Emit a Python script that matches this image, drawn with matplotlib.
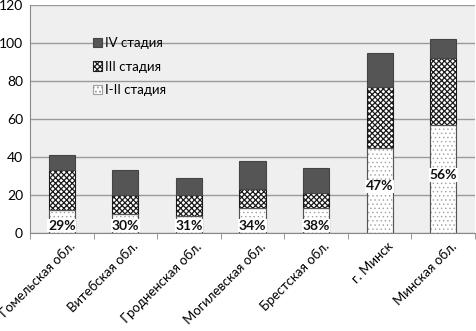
import matplotlib
matplotlib.use("Agg")
import matplotlib.pyplot as plt
import matplotlib.transforms as mtrans
import numpy as np

categories = ["Гомельская обл.", "Витебская обл.", "Гродненская обл.", "Могилевская обл.",
              "Брестская обл.", "г. Минск", "Минская обл."]
stage_1_2 = [12, 10, 9, 13, 13, 45, 57]
stage_3 = [21, 10, 11, 10, 8, 32, 35]
stage_4 = [8, 13, 9, 15, 13, 18, 10]
pct_labels = ["29%", "30%", "31%", "34%", "38%", "47%", "56%"]
yticks = [0, 20, 40, 60, 80, 100, 120]

plt.rcParams['font.family'] = ['Lato', 'DejaVu Sans']

fig = plt.figure(figsize=(4.77, 3.31), dpi=100)
ax = fig.add_axes([30/477, 98/331, 445/477, 228/331])
ax.set_facecolor('#efefef')

x = np.arange(len(categories))
w = 0.41
s12 = np.array(stage_1_2)
s3 = np.array(stage_3)
s4 = np.array(stage_4)

plt.rcParams['hatch.linewidth'] = 0.5
b1 = ax.bar(x, s12, w, color='white', edgecolor='#a0a0a0', hatch='....', linewidth=0.8, label='I-II стадия', zorder=3)
plt.rcParams['hatch.linewidth'] = 0.9
b2 = ax.bar(x, s3, w, bottom=s12, color='white', edgecolor='#1a1a1a', hatch='xxxxxx', linewidth=0.8, label='III стадия', zorder=3)
b3 = ax.bar(x, s4, w, bottom=s12 + s3, color='#555555', edgecolor='#444444', linewidth=0.8, label='IV стадия', zorder=3)
# darker outlines drawn over hatched bars
ax.bar(x, s12, w, fill=False, edgecolor='#555555', linewidth=0.8, zorder=3.5)

for xi, seg, lab in zip(x, s12, pct_labels):
    yy = seg / 2 + 2 if seg > 30 else 3.8
    ax.text(xi, yy, lab, ha='center', va='center', fontsize=10, fontweight='bold', zorder=4,
            color='#111111', bbox=dict(facecolor='white', edgecolor='none', pad=0.5))

ax.set_xlim(-0.5, len(categories) - 0.5)
ax.set_ylim(0, 120)
ax.set_yticks(yticks)
ax.set_yticklabels([str(t) for t in yticks], fontsize=10)
ax.yaxis.grid(True, color='#9a9a9a', linewidth=1.0, zorder=0)
ax.set_axisbelow(True)
ax.tick_params(axis='y', length=0, pad=5)

ax.set_xticks(x)
ax.set_xticklabels(categories, rotation=45, ha='right', rotation_mode='anchor', fontsize=9.5)
ax.tick_params(axis='x', length=0, pad=5)
offset = mtrans.ScaledTranslation(7/100, 0, fig.dpi_scale_trans)
for lbl in ax.get_xticklabels():
    lbl.set_transform(lbl.get_transform() + offset)
ax.set_xticks(np.arange(len(categories) + 1) - 0.5, minor=True)
ax.tick_params(axis='x', which='minor', length=4, color='#888888')

for sp in ['top', 'right']:
    ax.spines[sp].set_visible(False)
ax.spines['left'].set_color('#888888')
ax.spines['bottom'].set_color('#888888')

handles = [b3, b2, b1]
labels = ['IV стадия', 'III стадия', 'I-II стадия']
leg = ax.legend(handles, labels, loc='upper left', bbox_to_anchor=(0.115, 0.91), frameon=False,
                fontsize=9.5, handlelength=0.7, handleheight=0.7, handletextpad=0.2, labelspacing=0.85)

fig.savefig('out.png', dpi=100)
